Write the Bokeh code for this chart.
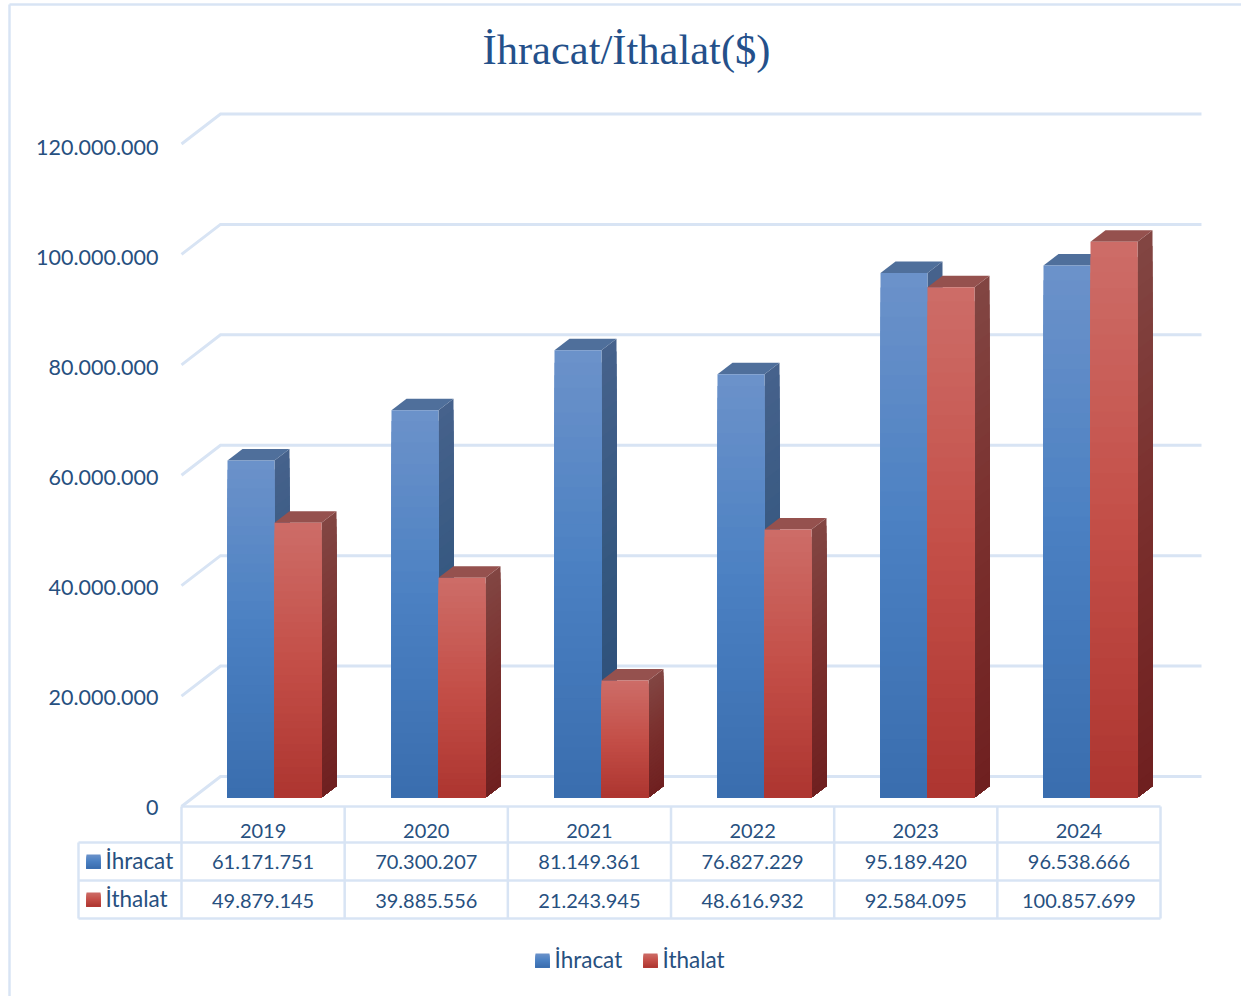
from bokeh.plotting import figure
from bokeh.models import Range1d, LinearAxis, FixedTicker
from bokeh.core.properties import value
from bokeh.embed import file_html
from bokeh.resources import INLINE

# ---- data ----
YEARS = ["2019", "2020", "2021", "2022", "2023", "2024"]
IHRACAT = [61171751, 70300207, 81149361, 76827229, 95189420, 96538666]
ITHALAT = [49879145, 39885556, 21243945, 48616932, 92584095, 100857699]
Y_TICKS = [0, 20000000, 40000000, 60000000, 80000000, 100000000, 120000000]
TITLE = "İhracat/İthalat($)"
SERIES_NAMES = ["İhracat", "İthalat"]

# ---- layout (page pixels) ----
W, H = 1241, 996
ZERO_PX = 806.0
PX_PER_UNIT = 5.51e-6
WALL_STRETCH = 1.002
CELL_X0, CELL_W = 181.0, 163.17
BAR_OFF, BAR_W = 46.4, 47
DEPTH_X, DEPTH_Y = 15, 11.5
WALL_X, WALL_Y = 39.0, 30.0
GRID_END = 1201
FLOOR_SHIFT = 9.0
NAVY = "#27507f"
LINE = "#d8e4f4"
N_SLICES = 36

BLUE = {"front": ["#6c92ca", "#4a80c2", "#3a6dae"], "side": ["#46628c", "#34577f", "#2a4c78"], "top": "#4f6f9b"}
RED = {"front": ["#cd6d68", "#c44f48", "#ad3530"], "side": ["#824643", "#7a2f2d", "#6f2020"], "top": "#95514e"}


def val(px):
    return (ZERO_PX - px) / PX_PER_UNIT


def hex2(c):
    return [int(c[i:i + 2], 16) for i in (1, 3, 5)]


def grad(stops, t):
    a, b, u = (stops[0], stops[1], t / 0.5) if t < 0.5 else (stops[1], stops[2], (t - 0.5) / 0.5)
    ca, cb = hex2(a), hex2(b)
    return "#%02x%02x%02x" % tuple(round(x + (y - x) * u) for x, y in zip(ca, cb))


p = figure(width=W, height=H, output_backend="svg", toolbar_location=None,
           x_range=Range1d(0, W),
           y_range=Range1d(val(H), val(0)),
           x_axis_location=None, y_axis_location=None,
           min_border=0, outline_line_color=None)
p.extra_y_ranges = {
    "page": Range1d(H, 0),
    # tick labels sit one pixel below their gridline ends, as in the source
    "labels": Range1d((807.0 - H) / 5.5e-6, 807.0 / 5.5e-6),
}
p.grid.visible = False

# value axis
axis = LinearAxis(ticker=FixedTicker(ticks=Y_TICKS), fixed_location=CELL_X0, y_range_name="labels",
                  major_label_overrides={t: f"{t:,}".replace(",", ".") for t in Y_TICKS},
                  axis_line_color=None, major_tick_line_color=None, minor_tick_line_color=None,
                  major_tick_in=0, major_tick_out=0, major_label_standoff=23,
                  major_label_text_color=NAVY, major_label_text_font="Lato",
                  major_label_text_font_size="21.5px")
p.add_layout(axis, "left")

# frame of the chart area
p.segment([9, 9], [4, 4], [9, 1241], [996, 4], y_range_name="page", line_color=LINE, line_width=2.5)

# walls
for t in Y_TICKS:
    front = t * WALL_STRETCH
    back = front + WALL_Y / PX_PER_UNIT
    p.line([CELL_X0, CELL_X0 + WALL_X, GRID_END], [front, back, back],
           line_color=LINE, line_width=3, line_join="miter")


def draw_bar(x0, v, pal):
    base = FLOOR_SHIFT / PX_PER_UNIT
    top = base + v
    dy = DEPTH_Y / PX_PER_UNIT
    step = v / N_SLICES
    xr, xd = x0 + BAR_W, x0 + BAR_W + DEPTH_X
    # each gradient slice reaches down to the base, painted top first, so no seams show
    xs_side, ys_side, c_side = [], [], []
    l, r, b, t, c = [], [], [], [], []
    for i in range(N_SLICES):
        hi = top - i * step
        f = (i + 0.5) / N_SLICES
        xs_side.append([xr, xd, xd, xr])
        ys_side.append([hi, hi + dy, base + dy, base])
        c_side.append(grad(pal["side"], f))
        l.append(x0)
        r.append(xr)
        t.append(hi)
        b.append(base)
        c.append(grad(pal["front"], f))
    p.patches(xs_side, ys_side, fill_color=c_side, line_color=None)
    p.patch([x0, x0 + DEPTH_X, xd, xr], [top, top + dy, top + dy, top],
            fill_color=pal["top"], line_color=None)
    p.quad(left=l, right=r, bottom=b, top=t, fill_color=c, line_color=None)


for i in range(len(YEARS)):
    x = round(CELL_X0 + CELL_W * i + BAR_OFF)
    draw_bar(x, IHRACAT[i], BLUE)
    draw_bar(x + BAR_W, ITHALAT[i], RED)

# data table
n = len(YEARS)
TABLE_L, TABLE_R = 78, CELL_X0 + CELL_W * n
ROWS = [806, 842, 880, 918]
p.segment([CELL_X0, TABLE_L, TABLE_L, TABLE_L], ROWS, [TABLE_R] * 4, ROWS, y_range_name="page",
          line_color=LINE, line_width=2.5)
vx = [CELL_X0 + CELL_W * i for i in range(n + 1)]
p.segment(vx, [806] * (n + 1), vx, [918] * (n + 1), y_range_name="page", line_color=LINE, line_width=2.5)
p.segment([TABLE_L], [842], [TABLE_L], [918], y_range_name="page", line_color=LINE, line_width=2.5)

cx = [CELL_X0 + CELL_W * (i + 0.5) for i in range(n)]
txt = dict(y_range_name="page", text_color=NAVY, text_font=value("Lato"), text_font_size="20px",
           text_baseline="middle", text_align="center")
p.text(cx, [830] * n, text=YEARS, **txt)
p.text(cx, [861] * n, text=[f"{v:,}".replace(",", ".") for v in IHRACAT], **txt)
p.text(cx, [900] * n, text=[f"{v:,}".replace(",", ".") for v in ITHALAT], **txt)


def swatch(x, y, pal):
    k = 14
    p.quad(left=[x] * k, right=[x + 14] * k,
           top=[y + j for j in range(k)], bottom=[y + k] * k,
           fill_color=[grad(pal["front"], (j + 0.5) / k) for j in range(k)], line_color=None,
           y_range_name="page")


lbl = dict(y_range_name="page", text_color=NAVY, text_font=value("Lato"), text_font_size="22.5px",
           text_baseline="middle", text_align="left")
swatch(86, 854, BLUE)
swatch(86, 892, RED)
p.text([105, 105], [860, 898], text=SERIES_NAMES, **lbl)
swatch(535, 953, BLUE)
swatch(643, 953, RED)
p.text([554, 662], [959, 959], text=SERIES_NAMES, **lbl)

p.text([626], [48.5], text=[TITLE], y_range_name="page", text_color="#24508a",
       text_font=value("Liberation Serif"), text_font_size="42.5px", text_baseline="middle", text_align="center")

open("out.html", "w").write(file_html(p, INLINE))
